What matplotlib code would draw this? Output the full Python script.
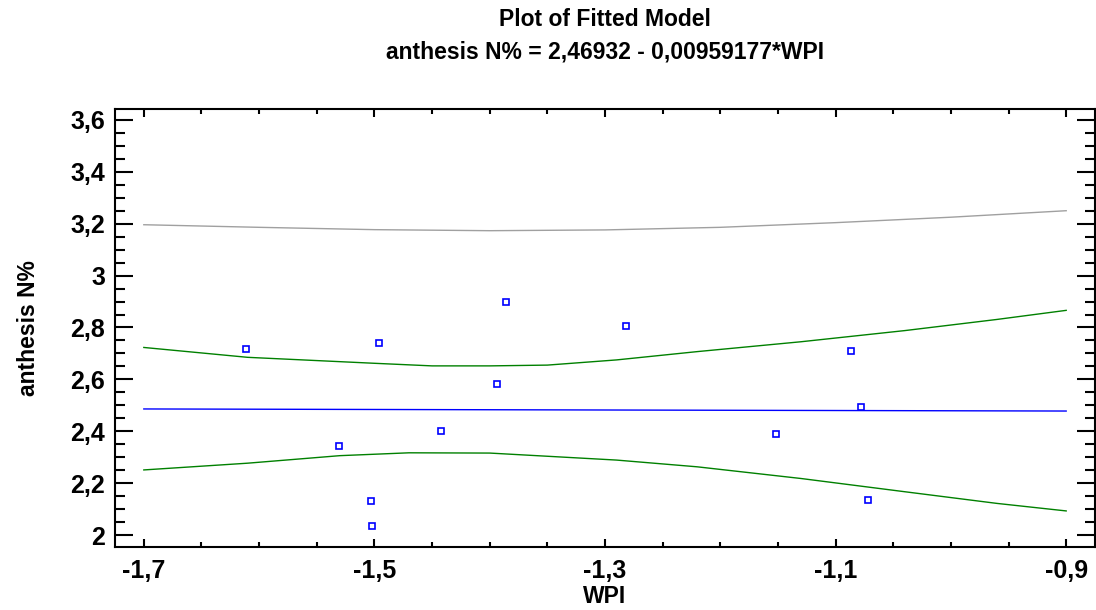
import numpy as np
import matplotlib
matplotlib.use("Agg")
import matplotlib.pyplot as plt
from matplotlib.ticker import MultipleLocator

plt.rcParams['font.family'] = ['Liberation Sans', 'DejaVu Sans']
plt.rcParams['font.weight'] = 'bold'

# observed points
wpi = [-1.611, -1.496, -1.386, -1.394, -1.282, -1.531, -1.442,
       -1.503, -1.502, -1.152, -1.087, -1.078, -1.072]
anthesis_n = [2.717, 2.740, 2.898, 2.582, 2.806, 2.343, 2.401,
              2.131, 2.035, 2.389, 2.709, 2.493, 2.135]

# fitted line
fit_x = [-1.7, -0.9]
fit_y = [2.486, 2.478]

# confidence limits (green)
conf_up_x = [-1.70, -1.61, -1.50, -1.45, -1.40, -1.35, -1.29, -1.22, -1.13, -1.04, -0.96, -0.90]
conf_up_y = [2.723, 2.685, 2.662, 2.652, 2.652, 2.655, 2.675, 2.707, 2.745, 2.788, 2.831, 2.866]
conf_lo_x = [-1.70, -1.61, -1.53, -1.47, -1.40, -1.29, -1.22, -1.13, -1.04, -0.96, -0.90]
conf_lo_y = [2.251, 2.277, 2.306, 2.317, 2.316, 2.289, 2.263, 2.218, 2.167, 2.122, 2.093]

# prediction limit (gray, upper only visible)
pred_x = [-1.70, -1.60, -1.50, -1.40, -1.30, -1.20, -1.10, -1.00, -0.90]
pred_y = [3.196, 3.186, 3.177, 3.173, 3.176, 3.186, 3.204, 3.225, 3.250]

xticks = [-1.7, -1.5, -1.3, -1.1, -0.9]
xticklabels = ["-1,7", "-1,5", "-1,3", "-1,1", "-0,9"]
yticks = [2.0, 2.2, 2.4, 2.6, 2.8, 3.0, 3.2, 3.4, 3.6]
yticklabels = ["2", "2,2", "2,4", "2,6", "2,8", "3", "3,2", "3,4", "3,6"]

fig = plt.figure(figsize=(10.96, 6.10), dpi=100)
ax = fig.add_axes([115 / 1096, 1 - 547 / 610, 980 / 1096, 438 / 610])

ax.plot(pred_x, pred_y, color="#a0a0a0", lw=1.0)
ax.plot(conf_up_x, conf_up_y, color="#008000", lw=1.0)
ax.plot(conf_lo_x, conf_lo_y, color="#008000", lw=1.0)
ax.plot(fit_x, fit_y, color="#0000ff", lw=1.0)
ax.plot(wpi, anthesis_n, ls="none", marker="s", ms=5, mfc="white",
        mec="#0000ff", mew=1.2)

ax.set_xlim(-1.725, -0.875)
ax.set_ylim(1.954, 3.642)

ax.set_xticks(xticks)
ax.set_xticklabels(xticklabels)
ax.set_yticks(yticks)
ax.set_yticklabels(yticklabels)
ax.xaxis.set_minor_locator(MultipleLocator(0.05))
ax.yaxis.set_minor_locator(MultipleLocator(0.05))

for s in ax.spines.values():
    s.set_linewidth(1.5)

ax.tick_params(axis="y", which="major", direction="in", length=13, width=1.5,
               left=True, right=True, labelsize=18, pad=7)
ax.tick_params(axis="y", which="minor", direction="in", length=7, width=1.5,
               left=True, right=True)
ax.tick_params(axis="x", which="major", direction="in", length=6, width=1.5,
               top=True, bottom=True, labelsize=18, pad=9)
ax.tick_params(axis="x", which="minor", direction="in", length=3.5, width=1.5,
               top=True, bottom=True)

ax.set_xlabel("WPI", fontsize=16.5, fontweight="bold", labelpad=1)
ax.set_ylabel("anthesis N%", fontsize=16.5, fontweight="bold", labelpad=22)

fig.text(605 / 1096, 1 - 19 / 610, "Plot of Fitted Model", ha="center", va="center",
         fontsize=16.5, fontweight="bold")
fig.text(605 / 1096, 1 - 52 / 610, "anthesis N% = 2,46932 - 0,00959177*WPI",
         ha="center", va="center", fontsize=16.5, fontweight="bold")

fig.savefig("out.png", dpi=100)
